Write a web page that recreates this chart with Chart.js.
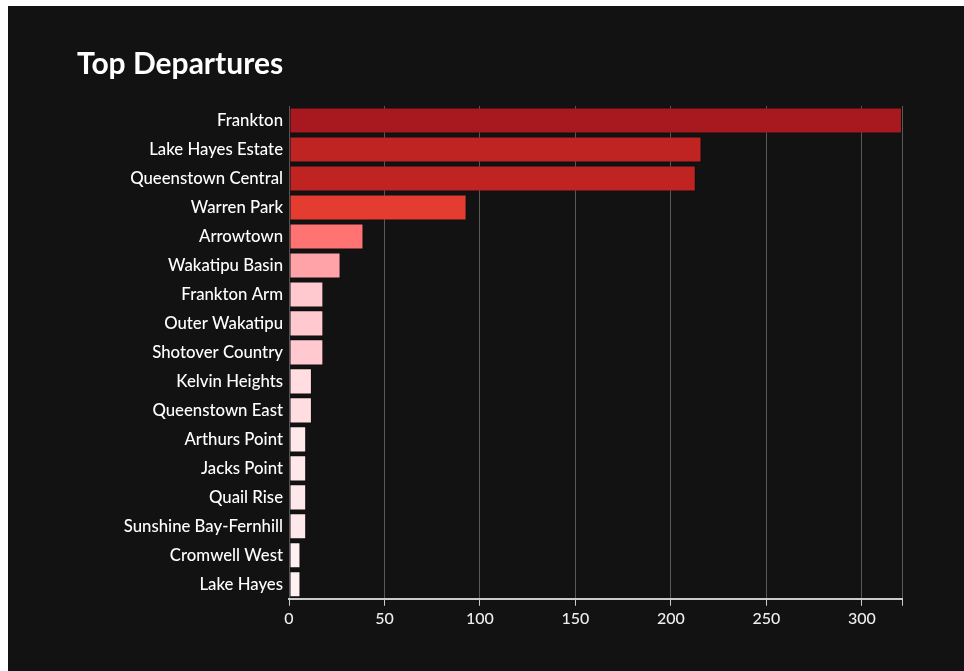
<!DOCTYPE html>
<html>
<head>
<meta charset="utf-8">
<script src="https://cdn.jsdelivr.net/npm/chart.js@4"></script>
<style>
  html, body { margin: 0; padding: 0; background: #ffffff; }
  #panel {
    position: absolute; left: 8px; top: 6px;
    width: 956px; height: 665px;
    background: #121212;
  }
</style>
</head>
<body>
<div id="panel"><canvas id="chart" width="956" height="665"></canvas></div>
<script>
// Salidas por zona, ordenadas de mayor a menor
const zonas = [
  'Frankton', 'Lake Hayes Estate', 'Queenstown Central', 'Warren Park',
  'Arrowtown', 'Wakatipu Basin', 'Frankton Arm', 'Outer Wakatipu',
  'Shotover Country', 'Kelvin Heights', 'Queenstown East', 'Arthurs Point',
  'Jacks Point', 'Quail Rise', 'Sunshine Bay-Fernhill', 'Cromwell West', 'Lake Hayes',
];
const salidas = [321, 216, 213, 93, 39, 27, 18, 18, 18, 12, 12, 9, 9, 9, 9, 6, 6];
const xTicks = [0, 50, 100, 150, 200, 250, 300];

// escala de rojos según el valor
const coloresBarra = [
  '#a7181f', '#c02422', '#bf2322', '#e53c32', '#ff7373', '#ffa3a8',
  '#ffc9cf', '#ffc9cf', '#ffc9cf', '#ffdde0', '#ffdde0', '#ffe8ea',
  '#ffe8ea', '#ffe8ea', '#ffe8ea', '#fff0f2', '#fff0f2',
];

const FONT = "Lato, 'Open Sans', sans-serif";

const ctx = document.getElementById('chart').getContext('2d');
new Chart(ctx, {
  type: 'bar',
  data: {
    labels: zonas,
    datasets: [{
      label: 'Departures',
      data: salidas,
      backgroundColor: coloresBarra,
      borderColor: 'rgba(0,0,0,0.25)',
      borderWidth: 1,
      borderSkipped: false,
      barPercentage: 0.9,
      categoryPercentage: 1,
    }],
  },
  options: {
    indexAxis: 'y',
    responsive: false,
    animation: false,
    layout: { padding: { left: 69, right: 62, top: 40, bottom: 40 } },
    plugins: {
      legend: { display: false },
      tooltip: { enabled: false },
      title: {
        display: true,
        text: 'Top Departures',
        align: 'start',
        color: '#ffffff',
        font: { family: FONT, size: 30, weight: 'bold' },
        padding: { top: 0, bottom: 24 },
      },
    },
    scales: {
      x: {
        min: 0,
        max: salidas[0],
        afterBuildTicks: (scale) => {
          scale.ticks = xTicks.map((v) => ({ value: v })).concat([{ value: salidas[0] }]);
        },
        ticks: {
          color: '#eeeeee',
          font: { family: FONT, size: 16, weight: '500' },
          padding: 3,
          maxRotation: 0,
          autoSkip: false,
          callback: (v) => (xTicks.includes(v) ? String(v) : ''),
        },
        grid: {
          color: 'rgba(255,255,255,0.3)',
          lineWidth: 1,
          tickColor: '#cccccc',
          tickLength: 7,
        },
        border: { display: true, color: '#cccccc', width: 2 },
      },
      y: {
        afterFit: (scale) => { scale.width = 212; },
        ticks: {
          color: '#ffffff',
          font: { family: FONT, size: 16.75, weight: '500' },
          padding: -2,
          autoSkip: false,
        },
        grid: { display: false },
        border: { display: false },
      },
    },
  },
});
</script>
</body>
</html>
